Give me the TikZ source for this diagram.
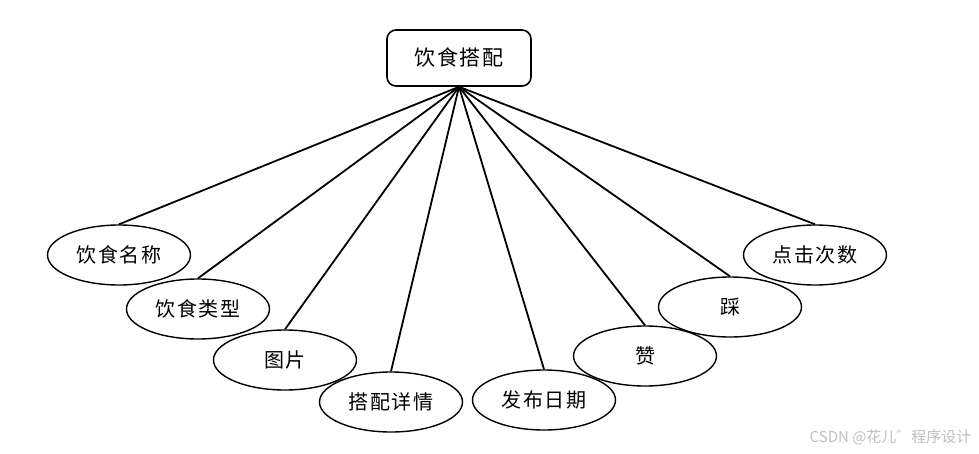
\documentclass[tikz,border=0pt]{standalone}
\usepackage{fontspec}
\newfontfamily\cjk{Noto Sans CJK SC}
\newfontfamily\cjkw[LetterSpace=8]{Noto Sans CJK SC}
\usetikzlibrary{shapes.geometric}
\begin{document}
\begin{tikzpicture}[x=1pt,y=-1pt,
  ent/.style={draw,line width=1.6pt,rounded corners=9pt,minimum width=144pt,minimum height=56pt,inner sep=0pt,font=\cjkw\fontsize{21}{24}\selectfont},
  attr/.style={draw,line width=1.4pt,ellipse,minimum width=143pt,minimum height=60pt,inner sep=0pt,font=\cjkw\fontsize{20}{24}\selectfont},
  link/.style={line width=1.8pt}]
\useasboundingbox (0,0) rectangle (979,453);
\node[ent] (top) at (459,58) {饮食搭配};
\node[attr] (a1) at (119,255) {饮食名称};
\node[attr] (a2) at (198,309) {饮食类型};
\node[attr] (a3) at (285,360) {图片};
\node[attr] (a4) at (391,402) {搭配详情};
\node[attr] (a5) at (544,400) {发布日期};
\node[attr] (a6) at (645,356) {赞};
\node[attr] (a7) at (730,307) {踩};
\node[attr] (a8) at (815,255) {点击次数};
\foreach \i in {1,...,8} \draw[link] (top.south) -- (a\i.north);
\node[anchor=east,text=black!25,font=\cjk\fontsize{15}{18}\selectfont] (wm) at (975,437) {CSDN @花儿゛程序设计};
\end{tikzpicture}
\end{document}
